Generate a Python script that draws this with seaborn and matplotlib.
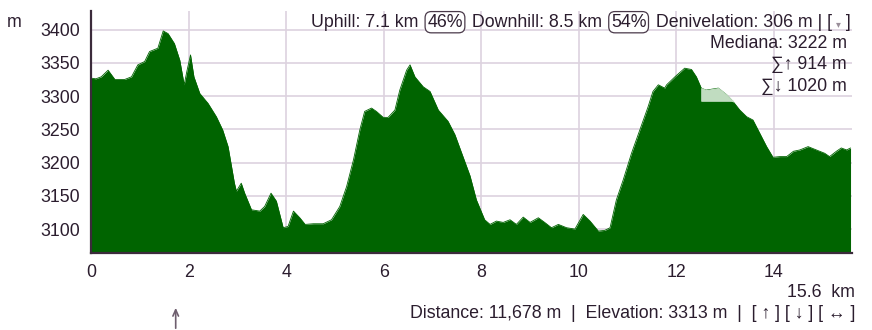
import numpy as np
import pandas as pd
import matplotlib
matplotlib.use("Agg")
import matplotlib.pyplot as plt
import seaborn as sns

# ---- data ----
distance_km = [0.00, 0.10, 0.21, 0.35, 0.49, 0.69, 0.83, 0.96, 1.10, 1.20, 1.37, 1.48, 1.58, 1.71,
               1.82, 1.91, 1.97, 2.04, 2.11, 2.23, 2.40, 2.57, 2.70, 2.81, 2.94, 2.98, 3.08, 3.15,
               3.29, 3.46, 3.56, 3.69, 3.80, 3.94, 4.04, 4.15, 4.28, 4.39, 4.56, 4.76, 4.93, 5.10,
               5.24, 5.38, 5.51, 5.61, 5.75, 5.85, 5.99, 6.09, 6.23, 6.33, 6.47, 6.54, 6.64, 6.81,
               6.95, 7.12, 7.32, 7.46, 7.60, 7.77, 7.90, 8.07, 8.18, 8.31, 8.45, 8.59, 8.72, 8.86,
               9.00, 9.17, 9.30, 9.44, 9.58, 9.75, 9.92, 10.09, 10.23, 10.40, 10.53, 10.64, 10.77,
               10.91, 11.08, 11.25, 11.42, 11.52, 11.63, 11.76, 11.80, 11.97, 12.17, 12.31, 12.41,
               12.51, 12.61, 12.86, 13.03, 13.16, 13.30, 13.44, 13.57, 13.71, 13.85, 13.98, 14.12,
               14.26, 14.40, 14.53, 14.70, 14.87, 15.04, 15.14, 15.28, 15.38, 15.49, 15.57]
elevation_m = [3327, 3326, 3329, 3339, 3325, 3325, 3329, 3347, 3352, 3367, 3372, 3398, 3394, 3379,
               3354, 3317, 3339, 3362, 3329, 3304, 3289, 3269, 3249, 3224, 3169, 3157, 3169, 3154,
               3129, 3127, 3134, 3154, 3142, 3102, 3104, 3127, 3117, 3107, 3108, 3108, 3114, 3134,
               3164, 3204, 3249, 3277, 3282, 3277, 3268, 3268, 3279, 3309, 3339, 3347, 3329, 3314,
               3307, 3279, 3262, 3242, 3214, 3180, 3144, 3114, 3107, 3112, 3110, 3114, 3107, 3118,
               3110, 3117, 3110, 3102, 3107, 3102, 3100, 3122, 3112, 3097, 3098, 3102, 3144,
               3174, 3214, 3249, 3284, 3307, 3317, 3312, 3317, 3329, 3342, 3340, 3329,
               3312, 3309, 3312, 3302, 3292, 3279, 3269, 3264, 3244, 3224, 3208, 3209,
               3209, 3217, 3219, 3224, 3219, 3214, 3209, 3217, 3222, 3219, 3222]

highlight_start_km = 12.51
highlight_level_m = 3293

x_ticks = [0, 2, 4, 6, 8, 10, 12, 14]
y_ticks = [3100, 3150, 3200, 3250, 3300, 3350, 3400]

df = pd.DataFrame({"km": distance_km, "elev": elevation_m})

sns.set_style("white")
plt.rcParams["font.family"] = ["Liberation Sans", "DejaVu Sans"]

W, H = 872, 330
fig = plt.figure(figsize=(W / 100, H / 100), dpi=100)
ax = fig.add_axes([91 / W, 1 - 253 / H, (852 - 91) / W, (253 - 11) / H])

TXT = "#2b1d2e"
DARK = "#006400"
LIGHT = "#c0dcc0"
GRID = "#ddd2df"
FS = 12.8

ymin, ymax = 3064, 3428
ax.set_xlim(0, 15.6)
ax.set_ylim(ymin, ymax)

ax.fill_between(df["km"], ymin, df["elev"], color=DARK, lw=0, zorder=2)
sns.lineplot(data=df, x="km", y="elev", ax=ax, color=DARK, lw=0.6, zorder=3)
mask = (df["km"] >= highlight_start_km) & (df["elev"] >= highlight_level_m - 1)
ax.fill_between(df["km"], highlight_level_m, df["elev"], where=mask.values,
                interpolate=True, facecolor=LIGHT, edgecolor=LIGHT, lw=0.8, zorder=4)

ax.set_xticks(x_ticks)
ax.set_yticks(y_ticks)
ax.set_xticklabels([str(v) for v in x_ticks])
ax.set_yticklabels([str(v) for v in y_ticks])
ax.tick_params(axis="both", length=0, labelsize=FS, labelcolor=TXT, pad=8)
ax.set_xlabel("")
ax.set_ylabel("")
ax.grid(True, color=GRID, lw=1.2, zorder=1)
ax.set_axisbelow(True)
for s in ["top", "right"]:
    ax.spines[s].set_visible(False)
for s in ["left", "bottom"]:
    ax.spines[s].set_color("#3b2b3b")
    ax.spines[s].set_linewidth(1.6)
    ax.spines[s].set_zorder(6)

def fx(px):
    return px / W

def fy(py):
    return 1 - py / H

renderer = fig.canvas.get_renderer()

def row(pieces, x_right, y_base, gap=4):
    # pieces: (text, boxed, fontsize, color)
    texts = []
    widths = []
    for s, boxed, fs, col in pieces:
        kw = {}
        if boxed:
            kw["bbox"] = dict(boxstyle="round,pad=0.12,rounding_size=0.35", fc="white",
                              ec="#4a3a4a", lw=0.9)
        t = fig.text(0, fy(y_base), s, fontsize=fs, color=col, ha="left", va="baseline", **kw)
        bb = t.get_window_extent(renderer)
        texts.append((t, boxed))
        widths.append(bb.width)
    pad_px = 0.12 * FS * 100 / 72
    total = sum(widths) + sum((2 * pad_px + gap) if p[1] else 0 for p in pieces)
    x = x_right - total
    for (t, boxed), w in zip(texts, widths):
        if boxed:
            x += pad_px + gap / 2
            t.set_x(fx(x))
            x += w + pad_px + gap / 2
        else:
            t.set_x(fx(x))
            x += w

row([("Uphill: 7.1 km ", False, FS, TXT), ("46%", True, FS, TXT),
     (" Downhill: 8.5 km ", False, FS, TXT), ("54%", True, FS, TXT),
     (" Denivelation: 306 m | [ ", False, FS, TXT), ("\u25be", False, 7, "#9a8f9a"),
     (" ]", False, FS, TXT)], 851, 26.7)

fig.text(fx(847), fy(48.3), "Mediana: 3222 m", fontsize=FS, color=TXT, ha="right", va="baseline")
fig.text(fx(847), fy(69.3), "\u2211\u2191 914 m", fontsize=FS, color=TXT, ha="right", va="baseline")
fig.text(fx(847), fy(90.7), "\u2211\u2193 1020 m", fontsize=FS, color=TXT, ha="right", va="baseline")

fig.text(fx(14), fy(26.7), "m", fontsize=FS, color=TXT, ha="center", va="baseline")

fig.text(fx(855), fy(296.7), "15.6  km", fontsize=FS, color=TXT, ha="right", va="baseline")
fig.text(fx(855), fy(317.7),
         "Distance: 11,678 m  |  Elevation: 3313 m  |  [ \u2191 ] [ \u2193 ] [ \u2194 ]",
         fontsize=FS, color=TXT, ha="right", va="baseline")

ax.annotate("", xy=(175.7, H - 305), xytext=(175.7, H - 331),
            xycoords="figure pixels", textcoords="figure pixels",
            arrowprops=dict(arrowstyle="->,head_width=0.2,head_length=0.45",
                            color="#6e5e6e", lw=1.2))

fig.savefig("out.png", dpi=100)
